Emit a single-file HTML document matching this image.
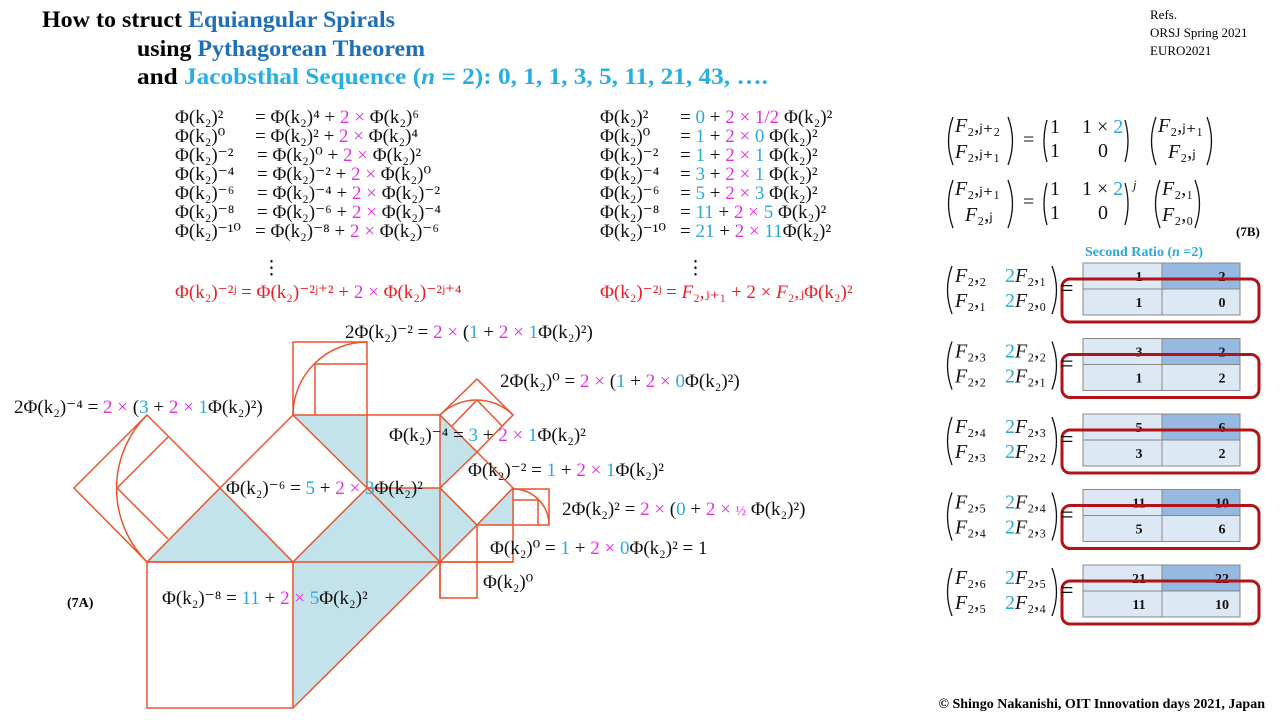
<!DOCTYPE html>
<html><head><meta charset="utf-8"><style>
html,body{margin:0;padding:0;background:#fff;}
svg{display:block}
.m{font-family:"Liberation Serif","DejaVu Serif",serif;font-size:19px;fill:#111}
.mg{fill:#e030e0}.bl{fill:#2aa8da}.rd{fill:#e8202a}
.t{font-family:"Liberation Serif",serif;font-weight:bold;font-size:23px}
.f{font-family:"Liberation Serif",serif;font-size:20px;fill:#111}
.n{font-family:"Liberation Serif",serif;font-weight:bold;font-size:14px;fill:#111}
</style></head><body>
<svg width="1280" height="720" viewBox="0 0 1280 720" xmlns="http://www.w3.org/2000/svg">
<text class="t" x="42" y="27" textLength="353" lengthAdjust="spacingAndGlyphs">How to struct <tspan fill="#1e6fb8">Equiangular Spirals</tspan></text>
<text class="t" x="137" y="56" textLength="288" lengthAdjust="spacingAndGlyphs">using <tspan fill="#1e6fb8">Pythagorean Theorem</tspan></text>
<text class="t" x="137" y="84" textLength="631" lengthAdjust="spacingAndGlyphs">and <tspan fill="#28aee0">Jacobsthal Sequence (<tspan font-style="italic">n</tspan> = 2):  0, 1, 1, 3, 5, 11, 21, 43, ….</tspan></text>
<text x="1150" y="19" font-family="Liberation Serif" font-size="13">Refs.</text>
<text x="1150" y="37" font-family="Liberation Serif" font-size="13">ORSJ Spring  2021</text>
<text x="1150" y="55" font-family="Liberation Serif" font-size="13">EURO2021</text>

<g class="m">
<text x="175" y="123">Φ(k₂)²</text><text x="255" y="123">= Φ(k₂)⁴ + <tspan class="mg">2 ×</tspan> Φ(k₂)⁶</text>
<text x="175" y="142">Φ(k₂)⁰</text><text x="255" y="142">= Φ(k₂)² + <tspan class="mg">2 ×</tspan> Φ(k₂)⁴</text>
<text x="175" y="161">Φ(k₂)⁻²</text><text x="257" y="161">= Φ(k₂)⁰ + <tspan class="mg">2 ×</tspan> Φ(k₂)²</text>
<text x="175" y="180">Φ(k₂)⁻⁴</text><text x="257" y="180">= Φ(k₂)⁻² + <tspan class="mg">2 ×</tspan> Φ(k₂)⁰</text>
<text x="175" y="199">Φ(k₂)⁻⁶</text><text x="257" y="199">= Φ(k₂)⁻⁴ + <tspan class="mg">2 ×</tspan> Φ(k₂)⁻²</text>
<text x="175" y="218">Φ(k₂)⁻⁸</text><text x="257" y="218">= Φ(k₂)⁻⁶ + <tspan class="mg">2 ×</tspan> Φ(k₂)⁻⁴</text>
<text x="175" y="237">Φ(k₂)⁻¹⁰</text><text x="255" y="237">= Φ(k₂)⁻⁸ + <tspan class="mg">2 ×</tspan> Φ(k₂)⁻⁶</text>
<text x="262" y="274">⋮</text>
<text x="175" y="298" style="fill:#e8202a">Φ(k₂)⁻²ʲ = Φ(k₂)⁻²ʲ⁺² + <tspan class="mg">2 ×</tspan> Φ(k₂)⁻²ʲ⁺⁴</text>
</g>
<g class="m">
<text x="600" y="123">Φ(k₂)²</text><text x="680" y="123">= <tspan class="bl">0</tspan>   + <tspan class="mg">2 × 1/2</tspan>  Φ(k₂)²</text>
<text x="600" y="142">Φ(k₂)⁰</text><text x="680" y="142">= <tspan class="bl">1</tspan>   + <tspan class="mg">2 ×</tspan> <tspan class="bl">0</tspan>  Φ(k₂)²</text>
<text x="600" y="161">Φ(k₂)⁻²</text><text x="680" y="161">= <tspan class="bl">1</tspan>   + <tspan class="mg">2 ×</tspan> <tspan class="bl">1</tspan>  Φ(k₂)²</text>
<text x="600" y="180">Φ(k₂)⁻⁴</text><text x="680" y="180">= <tspan class="bl">3</tspan>   + <tspan class="mg">2 ×</tspan> <tspan class="bl">1</tspan>  Φ(k₂)²</text>
<text x="600" y="199">Φ(k₂)⁻⁶</text><text x="680" y="199">= <tspan class="bl">5</tspan>   + <tspan class="mg">2 ×</tspan> <tspan class="bl">3</tspan>  Φ(k₂)²</text>
<text x="600" y="218">Φ(k₂)⁻⁸</text><text x="680" y="218">= <tspan class="bl">11</tspan> + <tspan class="mg">2 ×</tspan> <tspan class="bl">5</tspan>  Φ(k₂)²</text>
<text x="600" y="237">Φ(k₂)⁻¹⁰</text><text x="680" y="237">= <tspan class="bl">21</tspan> + <tspan class="mg">2 ×</tspan> <tspan class="bl">11</tspan>Φ(k₂)²</text>
<text x="686" y="274">⋮</text>
<text x="600" y="298" style="fill:#e8202a">Φ(k₂)⁻²ʲ = <tspan font-style="italic">F</tspan>₂,ⱼ₊₁ + 2 × <tspan font-style="italic">F</tspan>₂,ⱼΦ(k₂)²</text>
</g>

<g fill="#c3e2e9" stroke="none">
<polygon points="147,562 220,488 293,562"/>
<polygon points="293,562 367,488 440,488 440,562"/>
<polygon points="293,562 293,708 440,562"/>
<polygon points="293,415 367,415 367,488"/>
<polygon points="440,415 477,452 440,488"/>
<polygon points="440,488 477,525 440,562"/>
<polygon points="477,525 513,488 513,525"/>
</g>
<g fill="none" stroke="#e8542e" stroke-width="1.5">
<rect x="147" y="562" width="146" height="146"/>
<line x1="293" y1="708" x2="440" y2="562"/>
<line x1="147" y1="562" x2="513" y2="562"/>
<polygon points="74,488 147,415 220,488 147,562"/>
<path d="M147,415 A104,104 0 0 0 147,562"/>
<line x1="117" y1="488" x2="168" y2="437"/>
<line x1="117" y1="488" x2="168" y2="539"/>
<polygon points="220,488 293,415 367,488 293,562"/>
<line x1="367" y1="488" x2="440" y2="562"/>
<rect x="293" y="342" width="74" height="73"/>
<path d="M293,415 A74,73 0 0 1 367,342"/>
<polyline points="315,415 315,364 367,364"/>
<line x1="367" y1="415" x2="367" y2="488"/>
<line x1="367" y1="415" x2="440" y2="415"/>
<line x1="367" y1="488" x2="440" y2="488"/>
<line x1="440" y1="415" x2="440" y2="598"/>
<polygon points="440,415 477,379 513,415 477,452"/>
<path d="M440,415 A52,52 0 0 1 513,415"/>
<line x1="477" y1="400" x2="452" y2="426"/>
<line x1="477" y1="400" x2="502" y2="426"/>
<polygon points="440,488 477,452 513,488 477,525"/>
<line x1="440" y1="562" x2="477" y2="525"/>
<rect x="477" y="525" width="36" height="37"/>
<rect x="513" y="489" width="36" height="36"/>
<path d="M513,489 A36,36 0 0 1 549,525"/>
<polyline points="513,500 538,500 538,525"/>
<rect x="440" y="562" width="37" height="36"/>
</g>
<g class="m">
<text x="345" y="338">2Φ(k₂)⁻² = <tspan class="mg">2 ×</tspan> (<tspan class="bl">1</tspan> + <tspan class="mg">2 ×</tspan> <tspan class="bl">1</tspan>Φ(k₂)²)</text>
<text x="500" y="387">2Φ(k₂)⁰ = <tspan class="mg">2 ×</tspan> (<tspan class="bl">1</tspan> + <tspan class="mg">2 ×</tspan> <tspan class="bl">0</tspan>Φ(k₂)²)</text>
<text x="14" y="413">2Φ(k₂)⁻⁴ = <tspan class="mg">2 ×</tspan> (<tspan class="bl">3</tspan> + <tspan class="mg">2 ×</tspan> <tspan class="bl">1</tspan>Φ(k₂)²)</text>
<text x="389" y="441">Φ(k₂)⁻⁴ = <tspan class="bl">3</tspan> + <tspan class="mg">2 ×</tspan> <tspan class="bl">1</tspan>Φ(k₂)²</text>
<text x="468" y="476">Φ(k₂)⁻² = <tspan class="bl">1</tspan> + <tspan class="mg">2 ×</tspan> <tspan class="bl">1</tspan>Φ(k₂)²</text>
<text x="226" y="494">Φ(k₂)⁻⁶ = <tspan class="bl">5</tspan> + <tspan class="mg">2 ×</tspan> <tspan class="bl">3</tspan>Φ(k₂)²</text>
<text x="562" y="515">2Φ(k₂)² = <tspan class="mg">2 ×</tspan> (<tspan class="bl">0</tspan> + <tspan class="mg">2 ×</tspan> <tspan class="mg" font-size="14">½</tspan> Φ(k₂)²)</text>
<text x="490" y="554">Φ(k₂)⁰ = <tspan class="bl">1</tspan> + <tspan class="mg">2 ×</tspan> <tspan class="bl">0</tspan>Φ(k₂)² = 1</text>
<text x="483" y="588">Φ(k₂)⁰</text>
<text x="162" y="604">Φ(k₂)⁻⁸ = <tspan class="bl">11</tspan> + <tspan class="mg">2 ×</tspan> <tspan class="bl">5</tspan>Φ(k₂)²</text>
</g>
<text x="67" y="607" font-family="Liberation Serif" font-weight="bold" font-size="14">(7A)</text>

<g class="f">
<text x="955" y="132"><tspan font-style="italic">F</tspan>₂,ⱼ₊₂</text>
<text x="955" y="158"><tspan font-style="italic">F</tspan>₂,ⱼ₊₁</text>
<text x="1023" y="146">=</text>
<text x="1050" y="133">1</text><text x="1082" y="133">1 × <tspan class="bl">2</tspan></text>
<text x="1050" y="157">1</text><text x="1098" y="157">0</text>
<text x="1158" y="132"><tspan font-style="italic">F</tspan>₂,ⱼ₊₁</text>
<text x="1168" y="158"><tspan font-style="italic">F</tspan>₂,ⱼ</text>
<text x="955" y="195"><tspan font-style="italic">F</tspan>₂,ⱼ₊₁</text>
<text x="965" y="221"><tspan font-style="italic">F</tspan>₂,ⱼ</text>
<text x="1023" y="208">=</text>
<text x="1050" y="195">1</text><text x="1082" y="195">1 × <tspan class="bl">2</tspan></text>
<text x="1050" y="219">1</text><text x="1098" y="219">0</text>
<text x="1133" y="189" font-size="13" font-style="italic">j</text>
<text x="1162" y="195"><tspan font-style="italic">F</tspan>₂,₁</text>
<text x="1162" y="221"><tspan font-style="italic">F</tspan>₂,₀</text>
</g>
<g fill="none" stroke="#111" stroke-width="1.3">
<path d="M953,117 Q944,141 953,165"/><path d="M1008,117 Q1017,141 1008,165"/>
<path d="M1047,120 Q1041,141 1047,162"/><path d="M1125,120 Q1131,141 1125,162"/>
<path d="M1156,117 Q1147,141 1156,165"/><path d="M1207,117 Q1216,141 1207,165"/>
<path d="M953,180 Q944,204 953,228"/><path d="M1008,180 Q1017,204 1008,228"/>
<path d="M1047,183 Q1041,204 1047,225"/><path d="M1125,183 Q1131,204 1125,225"/>
<path d="M1160,180 Q1151,204 1160,228"/><path d="M1195,180 Q1204,204 1195,228"/>
</g>
<text x="1236" y="236" font-family="Liberation Serif" font-weight="bold" font-size="13">(7B)</text>
<text x="1085" y="256" font-family="Liberation Serif" font-weight="bold" font-size="14" fill="#2aa8da">Second Ratio (<tspan font-style="italic">n</tspan>  =2)</text>

<g>
<g transform="translate(0,0)">
 <rect x="1083" y="263" width="79" height="26" fill="#dce9f5" stroke="#888"/><rect x="1162" y="263" width="78" height="26" fill="#95b9e1" stroke="#888"/>
 <rect x="1083" y="289" width="79" height="26" fill="#dce9f5" stroke="#888"/><rect x="1162" y="289" width="78" height="26" fill="#dce9f5" stroke="#888"/>
 <text class="n" x="1139" y="281" text-anchor="middle">1</text><text class="n" x="1222" y="281" text-anchor="middle">2</text>
 <text class="n" x="1139" y="307" text-anchor="middle">1</text><text class="n" x="1222" y="307" text-anchor="middle">0</text>
 <rect x="1062" y="279" width="197" height="43" rx="8" fill="none" stroke="#b01418" stroke-width="3"/>
</g>
<g transform="translate(0,75.5)">
 <rect x="1083" y="263" width="79" height="26" fill="#dce9f5" stroke="#888"/><rect x="1162" y="263" width="78" height="26" fill="#95b9e1" stroke="#888"/>
 <rect x="1083" y="289" width="79" height="26" fill="#dce9f5" stroke="#888"/><rect x="1162" y="289" width="78" height="26" fill="#dce9f5" stroke="#888"/>
 <text class="n" x="1139" y="281" text-anchor="middle">3</text><text class="n" x="1222" y="281" text-anchor="middle">2</text>
 <text class="n" x="1139" y="307" text-anchor="middle">1</text><text class="n" x="1222" y="307" text-anchor="middle">2</text>
 <rect x="1062" y="279" width="197" height="43" rx="8" fill="none" stroke="#b01418" stroke-width="3"/>
</g>
<g transform="translate(0,151)">
 <rect x="1083" y="263" width="79" height="26" fill="#dce9f5" stroke="#888"/><rect x="1162" y="263" width="78" height="26" fill="#95b9e1" stroke="#888"/>
 <rect x="1083" y="289" width="79" height="26" fill="#dce9f5" stroke="#888"/><rect x="1162" y="289" width="78" height="26" fill="#dce9f5" stroke="#888"/>
 <text class="n" x="1139" y="281" text-anchor="middle">5</text><text class="n" x="1222" y="281" text-anchor="middle">6</text>
 <text class="n" x="1139" y="307" text-anchor="middle">3</text><text class="n" x="1222" y="307" text-anchor="middle">2</text>
 <rect x="1062" y="279" width="197" height="43" rx="8" fill="none" stroke="#b01418" stroke-width="3"/>
</g>
<g transform="translate(0,226.5)">
 <rect x="1083" y="263" width="79" height="26" fill="#dce9f5" stroke="#888"/><rect x="1162" y="263" width="78" height="26" fill="#95b9e1" stroke="#888"/>
 <rect x="1083" y="289" width="79" height="26" fill="#dce9f5" stroke="#888"/><rect x="1162" y="289" width="78" height="26" fill="#dce9f5" stroke="#888"/>
 <text class="n" x="1139" y="281" text-anchor="middle">11</text><text class="n" x="1222" y="281" text-anchor="middle">10</text>
 <text class="n" x="1139" y="307" text-anchor="middle">5</text><text class="n" x="1222" y="307" text-anchor="middle">6</text>
 <rect x="1062" y="279" width="197" height="43" rx="8" fill="none" stroke="#b01418" stroke-width="3"/>
</g>
<g transform="translate(0,302)">
 <rect x="1083" y="263" width="79" height="26" fill="#dce9f5" stroke="#888"/><rect x="1162" y="263" width="78" height="26" fill="#95b9e1" stroke="#888"/>
 <rect x="1083" y="289" width="79" height="26" fill="#dce9f5" stroke="#888"/><rect x="1162" y="289" width="78" height="26" fill="#dce9f5" stroke="#888"/>
 <text class="n" x="1139" y="281" text-anchor="middle">21</text><text class="n" x="1222" y="281" text-anchor="middle">22</text>
 <text class="n" x="1139" y="307" text-anchor="middle">11</text><text class="n" x="1222" y="307" text-anchor="middle">10</text>
 <rect x="1062" y="279" width="197" height="43" rx="8" fill="none" stroke="#b01418" stroke-width="3"/>
</g>
</g>

<g class="f">
<g><text x="955" y="282"><tspan font-style="italic">F</tspan>₂,₂</text><text x="1005" y="282"><tspan class="bl">2</tspan><tspan font-style="italic">F</tspan>₂,₁</text>
<text x="955" y="307"><tspan font-style="italic">F</tspan>₂,₁</text><text x="1005" y="307"><tspan class="bl">2</tspan><tspan font-style="italic">F</tspan>₂,₀</text></g>
<g transform="translate(0,75.5)"><text x="955" y="282"><tspan font-style="italic">F</tspan>₂,₃</text><text x="1005" y="282"><tspan class="bl">2</tspan><tspan font-style="italic">F</tspan>₂,₂</text>
<text x="955" y="307"><tspan font-style="italic">F</tspan>₂,₂</text><text x="1005" y="307"><tspan class="bl">2</tspan><tspan font-style="italic">F</tspan>₂,₁</text></g>
<g transform="translate(0,151)"><text x="955" y="282"><tspan font-style="italic">F</tspan>₂,₄</text><text x="1005" y="282"><tspan class="bl">2</tspan><tspan font-style="italic">F</tspan>₂,₃</text>
<text x="955" y="307"><tspan font-style="italic">F</tspan>₂,₃</text><text x="1005" y="307"><tspan class="bl">2</tspan><tspan font-style="italic">F</tspan>₂,₂</text></g>
<g transform="translate(0,226.5)"><text x="955" y="282"><tspan font-style="italic">F</tspan>₂,₅</text><text x="1005" y="282"><tspan class="bl">2</tspan><tspan font-style="italic">F</tspan>₂,₄</text>
<text x="955" y="307"><tspan font-style="italic">F</tspan>₂,₄</text><text x="1005" y="307"><tspan class="bl">2</tspan><tspan font-style="italic">F</tspan>₂,₃</text></g>
<g transform="translate(0,302)"><text x="955" y="282"><tspan font-style="italic">F</tspan>₂,₆</text><text x="1005" y="282"><tspan class="bl">2</tspan><tspan font-style="italic">F</tspan>₂,₅</text>
<text x="955" y="307"><tspan font-style="italic">F</tspan>₂,₅</text><text x="1005" y="307"><tspan class="bl">2</tspan><tspan font-style="italic">F</tspan>₂,₄</text></g>
</g>
<g fill="none" stroke="#111" stroke-width="1.3">
<g id="pp"><path d="M952,266 Q943,290 952,314"/><path d="M1052,266 Q1061,290 1052,314"/><text x="1060" y="296" font-family="Liberation Serif" font-size="24" fill="#111" stroke="none">=</text></g>
<use href="#pp" transform="translate(0,75.5)"/>
<use href="#pp" transform="translate(0,151)"/>
<use href="#pp" transform="translate(0,226.5)"/>
<use href="#pp" transform="translate(0,302)"/>
</g>

<text x="1265" y="708" text-anchor="end" font-family="Liberation Serif" font-weight="bold" font-size="14">© Shingo  Nakanishi, OIT Innovation  days 2021, Japan</text>
</svg>
</body></html>
